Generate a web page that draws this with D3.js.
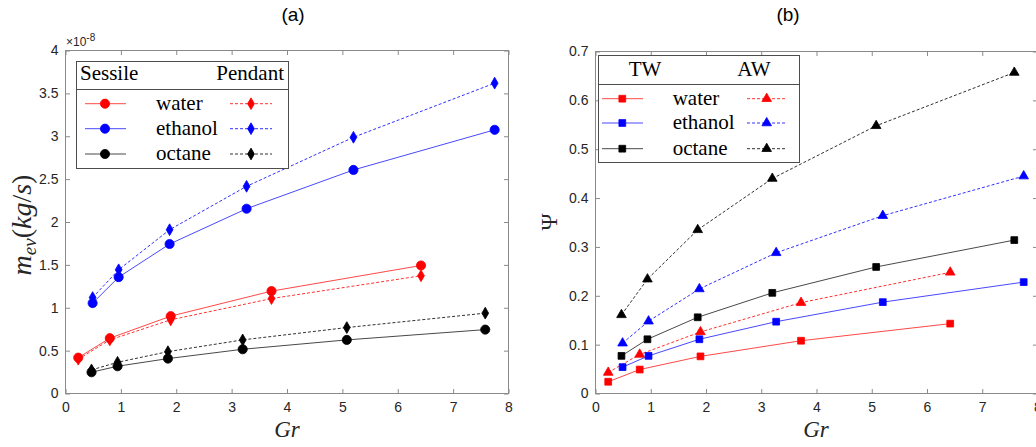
<!DOCTYPE html>
<html>
<head>
<meta charset="utf-8">
<script src="https://cdn.jsdelivr.net/npm/d3@7"></script>
<style>
  body { margin: 0; background: #fff; }
  svg { display: block; }
  .sans { font-family: "Liberation Sans", Arial, Helvetica, sans-serif; }
  .serif { font-family: "Liberation Serif", "Times New Roman", "DejaVu Serif", serif; }
</style>
</head>
<body>
<svg id="fig" width="1036" height="447"></svg>
<script>
// Grashof number of each measurement, per fluid
const grWater   = [0.23, 0.80, 1.90, 3.72, 6.42];
const grEthanol = [0.49, 0.96, 1.88, 3.27, 5.20, 7.75];
const grOctane  = [0.47, 0.94, 1.85, 3.20, 5.08, 7.58];

// (a) evaporation rate, in units of 1e-8 kg/s
const mevSessileWater   = [0.418, 0.645, 0.902, 1.194, 1.493];
const mevPendantWater   = [0.400, 0.625, 0.859, 1.107, 1.373];
const mevSessileEthanol = [1.054, 1.357, 1.743, 2.155, 2.607, 3.075];
const mevPendantEthanol = [1.119, 1.443, 1.910, 2.416, 2.988, 3.619];
const mevSessileOctane  = [0.248, 0.318, 0.407, 0.516, 0.625, 0.745];
const mevPendantOctane  = [0.275, 0.364, 0.488, 0.625, 0.769, 0.937];

// (b) Psi for the TW and AW configurations
const psiTWWater   = [0.024, 0.049, 0.076, 0.108, 0.143];
const psiAWWater   = [0.043, 0.080, 0.126, 0.186, 0.248];
const psiTWEthanol = [0.054, 0.077, 0.111, 0.147, 0.187, 0.228];
const psiAWEthanol = [0.103, 0.148, 0.214, 0.288, 0.364, 0.445];
const psiTWOctane  = [0.077, 0.111, 0.156, 0.206, 0.259, 0.314];
const psiAWOctane  = [0.161, 0.234, 0.335, 0.440, 0.548, 0.657];

const fluids = ["water", "ethanol", "octane"];
const fluidColors = ["#ff0000", "#0000ff", "#000000"];
const grTicks  = [0, 1, 2, 3, 4, 5, 6, 7, 8];
const mevTicks = [0, 0.5, 1, 1.5, 2, 2.5, 3, 3.5, 4];
const psiTicks = [0, 0.1, 0.2, 0.3, 0.4, 0.5, 0.6, 0.7];

const grByFluid = [grWater, grEthanol, grOctane];
const zip = (xs, ys) => xs.map((v, i) => [v, ys[i]]);

const svg = d3.select("#fig");
svg.append("rect").attr("width", 1036).attr("height", 447).attr("fill", "#fff");

const AXIS_GREY = "#8a8a8a";
const TEXT_DARK = "#262626";

const symbols = {
  circle:   d3.symbol().type(d3.symbolCircle).size(66)(),
  diamond:  d3.symbol().type(d3.symbolDiamond).size(40)(),
  square:   d3.symbol().type(d3.symbolSquare).size(46)(),
  triangle: d3.symbol().type(d3.symbolTriangle).size(40)()
};

function drawPanel(cfg) {
  const g = svg.append("g");
  const x = d3.scaleLinear().domain([0, 8]).range([cfg.left, cfg.right]);
  const y = d3.scaleLinear().domain([0, cfg.yMax]).range([cfg.bottom, cfg.top]);

  const styleAxis = sel => {
    sel.attr("font-family", null).attr("font-size", null);
    sel.select(".domain").remove();
    sel.selectAll(".tick line").attr("stroke", AXIS_GREY).attr("stroke-width", 1);
    sel.selectAll(".tick text")
      .attr("class", "sans")
      .attr("fill", TEXT_DARK)
      .attr("font-size", 14);
  };

  g.append("g").attr("transform", `translate(0,${cfg.bottom})`)
    .call(d3.axisBottom(x).tickValues(grTicks).tickSizeInner(-4.5).tickSizeOuter(0)
      .tickPadding(9).tickFormat(d => String(d)))
    .call(styleAxis);
  g.append("g").attr("transform", `translate(0,${cfg.top})`)
    .call(d3.axisTop(x).tickValues(grTicks).tickSizeInner(-4.5).tickSizeOuter(0).tickFormat(""))
    .call(styleAxis);
  g.append("g").attr("transform", `translate(${cfg.left},0)`)
    .call(d3.axisLeft(y).tickValues(cfg.yTicks).tickSizeInner(-4.5).tickSizeOuter(0)
      .tickPadding(7).tickFormat(d => String(d)))
    .call(styleAxis);
  g.append("g").attr("transform", `translate(${cfg.right},0)`)
    .call(d3.axisRight(y).tickValues(cfg.yTicks).tickSizeInner(-4.5).tickSizeOuter(0).tickFormat(""))
    .call(styleAxis);

  g.append("rect")
    .attr("x", cfg.left).attr("y", cfg.top)
    .attr("width", cfg.right - cfg.left).attr("height", cfg.bottom - cfg.top)
    .attr("fill", "none").attr("stroke", AXIS_GREY).attr("stroke-width", 1);

  const line = d3.line().x(d => x(d[0])).y(d => y(d[1]));

  cfg.series.forEach(s => {
    g.append("path")
      .datum(s.points)
      .attr("d", line)
      .attr("fill", "none")
      .attr("stroke", s.color)
      .attr("stroke-width", 0.9)
      .attr("stroke-opacity", s.dashed ? 0.9 : 0.8)
      .attr("stroke-dasharray", s.dashed ? "3,2" : null);
  });
  cfg.series.forEach(s => {
    g.append("g").selectAll("path")
      .data(s.points)
      .join("path")
      .attr("d", symbols[s.marker])
      .attr("transform", d => `translate(${x(d[0])},${y(d[1])})`)
      .attr("fill", s.color)
      .attr("stroke", s.color)
      .attr("stroke-width", 0.8);
  });

  // x label
  g.append("text")
    .attr("class", "serif")
    .attr("x", cfg.gxLabel).attr("y", 437)
    .attr("text-anchor", "middle")
    .attr("font-style", "italic").attr("font-size", 23)
    .attr("fill", TEXT_DARK)
    .text("Gr");

  // panel title
  g.append("text")
    .attr("class", "sans")
    .attr("x", cfg.titleX).attr("y", 21)
    .attr("text-anchor", "middle")
    .attr("font-size", 19)
    .attr("fill", "#000")
    .text(cfg.title);

  return { g, x, y };
}

function drawLegend(cfg) {
  const g = svg.append("g");
  g.append("rect")
    .attr("x", cfg.x0).attr("y", cfg.y0)
    .attr("width", cfg.x1 - cfg.x0).attr("height", cfg.y1 - cfg.y0)
    .attr("fill", "#fff").attr("stroke", "#4d4d4d").attr("stroke-width", 1);
  g.append("line")
    .attr("x1", cfg.x0).attr("x2", cfg.x1)
    .attr("y1", cfg.sep).attr("y2", cfg.sep)
    .attr("stroke", "#4d4d4d").attr("stroke-width", 1);

  const txt = (x, y, s, anchor) => g.append("text")
    .attr("class", "serif")
    .attr("x", x).attr("y", y).attr("text-anchor", anchor || "start")
    .attr("font-size", 21)
    .attr("fill", "#000").text(s);

  txt(cfg.head1.x, cfg.headY, cfg.head1.text, cfg.head1.anchor);
  txt(cfg.head2.x, cfg.headY, cfg.head2.text, cfg.head2.anchor);

  fluids.forEach((f, i) => {
    const ry = cfg.rows[i];
    const c = fluidColors[i];
    g.append("line")
      .attr("x1", cfg.s1[0]).attr("x2", cfg.s1[1]).attr("y1", ry).attr("y2", ry)
      .attr("stroke", c).attr("stroke-width", 0.9).attr("stroke-opacity", 0.8);
    g.append("path").attr("d", symbols[cfg.m1])
      .attr("transform", `translate(${cfg.s1[2]},${ry})`)
      .attr("fill", c).attr("stroke", c).attr("stroke-width", 0.8);
    g.append("line")
      .attr("x1", cfg.s2[0]).attr("x2", cfg.s2[1]).attr("y1", ry).attr("y2", ry)
      .attr("stroke", c).attr("stroke-width", 0.9).attr("stroke-opacity", 0.9)
      .attr("stroke-dasharray", "3,2");
    g.append("path").attr("d", symbols[cfg.m2])
      .attr("transform", `translate(${cfg.s2[2]},${ry})`)
      .attr("fill", c).attr("stroke", c).attr("stroke-width", 0.8);
    txt(cfg.textX, ry + 6, f);
  });
}

// ---------- (a) evaporation rate ----------
const sessileA = [mevSessileWater, mevSessileEthanol, mevSessileOctane];
const pendantA = [mevPendantWater, mevPendantEthanol, mevPendantOctane];
const seriesA = [];
fluids.forEach((f, i) => {
  seriesA.push({ points: zip(grByFluid[i], sessileA[i]), color: fluidColors[i], marker: "circle", dashed: false });
  seriesA.push({ points: zip(grByFluid[i], pendantA[i]), color: fluidColors[i], marker: "diamond", dashed: true });
});

drawPanel({
  left: 65.5, right: 508.5, top: 50.5, bottom: 393.5,
  yMax: 4, yTicks: mevTicks, series: seriesA,
  gxLabel: 287, titleX: 293, title: "(a)"
});

// exponent of the y axis
const expo = svg.append("text")
  .attr("class", "sans")
  .attr("x", 66).attr("y", 46)
  .attr("font-size", 12)
  .attr("fill", TEXT_DARK);
expo.append("tspan").text("\u00d710");
expo.append("tspan").attr("dy", -5).attr("font-size", 10).text("-8");

// y label m_ev (kg/s)
const yl = svg.append("text")
  .attr("class", "serif")
  .attr("transform", "translate(31,225) rotate(-90)")
  .attr("text-anchor", "middle")
  .attr("font-size", 28)
  .attr("fill", TEXT_DARK);
yl.append("tspan").attr("font-style", "italic").text("m");
yl.append("tspan").attr("font-style", "italic").attr("font-size", 19).attr("dy", 5).text("ev");
yl.append("tspan").attr("dy", -5).text("(");
yl.append("tspan").attr("font-style", "italic").text("kg");
yl.append("tspan").text("/");
yl.append("tspan").attr("font-style", "italic").text("s");
yl.append("tspan").text(")");

drawLegend({
  x0: 76.5, x1: 288.5, y0: 61.5, y1: 168.5, sep: 89.5,
  headY: 80,
  head1: { x: 80, text: "Sessile", anchor: "start" },
  head2: { x: 284, text: "Pendant", anchor: "end" },
  rows: [103.7, 128.7, 154],
  s1: [85, 126, 105], s2: [230, 272, 251],
  m1: "circle", m2: "diamond", textX: 156
});

// ---------- (b) Psi ----------
const twB = [psiTWWater, psiTWEthanol, psiTWOctane];
const awB = [psiAWWater, psiAWEthanol, psiAWOctane];
const seriesB = [];
fluids.forEach((f, i) => {
  seriesB.push({ points: zip(grByFluid[i], twB[i]), color: fluidColors[i], marker: "square", dashed: false });
  seriesB.push({ points: zip(grByFluid[i], awB[i]), color: fluidColors[i], marker: "triangle", dashed: true });
});

drawPanel({
  left: 595.5, right: 1037.5, top: 51.5, bottom: 393.5,
  yMax: 0.7, yTicks: psiTicks, series: seriesB,
  gxLabel: 816, titleX: 788, title: "(b)"
});

svg.append("text")
  .attr("class", "serif")
  .attr("transform", "translate(557,222) rotate(-90)")
  .attr("text-anchor", "middle")
  .attr("font-size", 23)
  .attr("fill", TEXT_DARK)
  .text("\u03a8");

drawLegend({
  x0: 598.5, x1: 799.5, y0: 55.5, y1: 162.5, sep: 84.5,
  headY: 75.5,
  head1: { x: 645, text: "TW", anchor: "middle" },
  head2: { x: 754, text: "AW", anchor: "middle" },
  rows: [98.7, 123, 148.7],
  s1: [602, 643, 622.3], s2: [747, 786, 766.7],
  m1: "square", m2: "triangle", textX: 672.7
});
</script>
</body>
</html>
